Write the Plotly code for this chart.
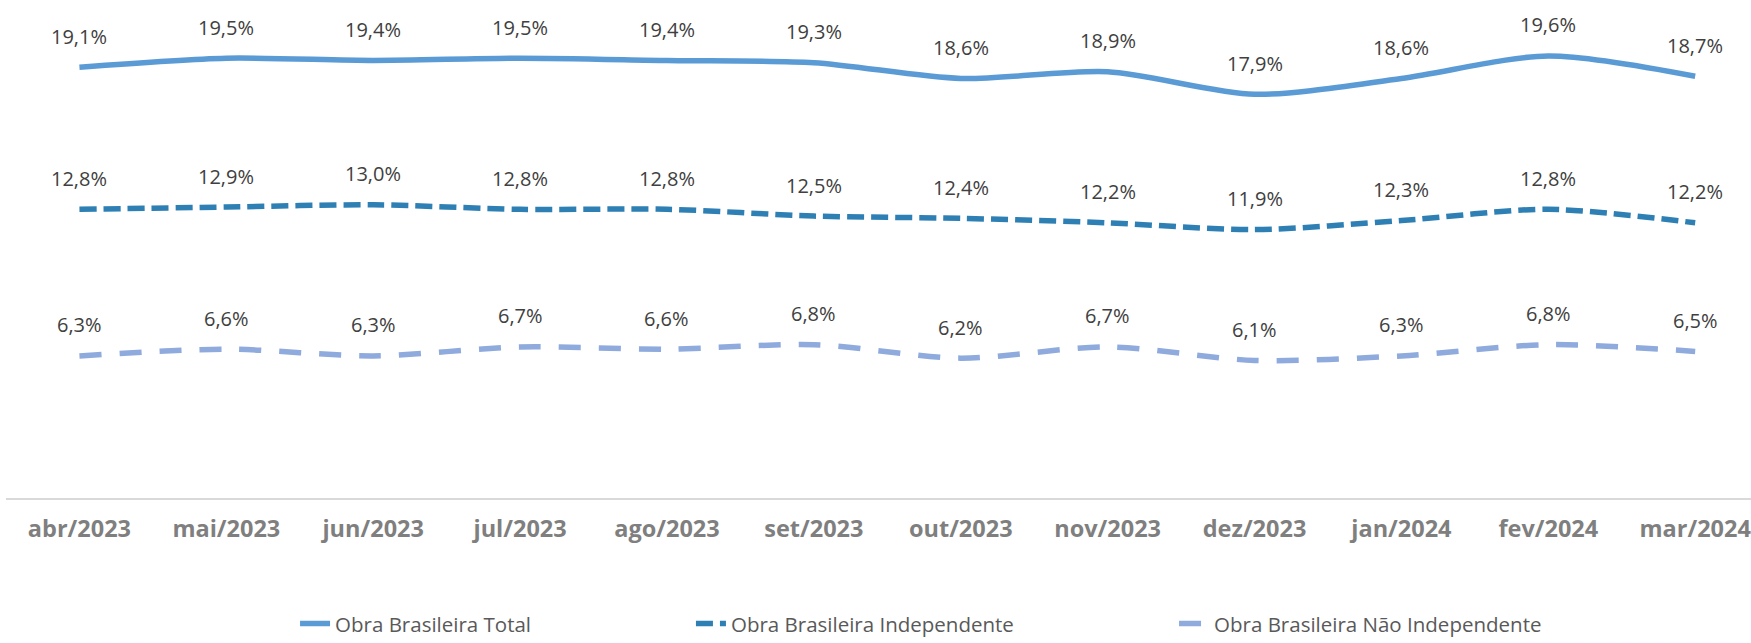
import plotly.graph_objects as go

meses = ['abr/2023', 'mai/2023', 'jun/2023', 'jul/2023', 'ago/2023', 'set/2023',
         'out/2023', 'nov/2023', 'dez/2023', 'jan/2024', 'fev/2024', 'mar/2024']
total = [19.1, 19.5, 19.4, 19.5, 19.4, 19.3, 18.6, 18.9, 17.9, 18.6, 19.6, 18.7]
independente = [12.8, 12.9, 13.0, 12.8, 12.8, 12.5, 12.4, 12.2, 11.9, 12.3, 12.8, 12.2]
nao_independente = [6.3, 6.6, 6.3, 6.7, 6.6, 6.8, 6.2, 6.7, 6.1, 6.3, 6.8, 6.5]

series = [
    ('Obra Brasileira Total', total, '#5B9BD5', 'solid', 'legend', 0.1685),
    ('Obra Brasileira Independente', independente, '#2E7FB4', '17px,7px', 'legend2', 0.3946),
    ('Obra Brasileira Não Independente', nao_independente, '#8FAADC', '22px,18px', 'legend3', 0.6705),
]

x_idx = list(range(len(meses)))

fig = go.Figure()
annotations = []
for nome, valores, cor, dash, leg, _ in series:
    fig.add_trace(go.Scatter(
        x=x_idx, y=valores, mode='lines', name=nome, legend=leg, showlegend=True,
        line=dict(color=cor, width=5.5, dash=dash, shape='spline', smoothing=0.8),
    ))
    for xi, v in zip(x_idx, valores):
        annotations.append(dict(
            x=xi, y=v, text=f'{v:.1f}%'.replace('.', ','), showarrow=False,
            yshift=31, font=dict(family='Open Sans', size=20, color='#404040'),
        ))

# legends placed relative to the whole page so they do not push the plot margins
legend_style = dict(orientation='h', xref='container', yref='container',
                    yanchor='middle', y=0.03, xanchor='left',
                    font=dict(family='Open Sans', size=20.5, color='#595959'),
                    bgcolor='rgba(0,0,0,0)')

fig.update_layout(
    width=1751, height=643,
    margin=dict(l=6, r=0, t=0, b=145, autoexpand=False),
    plot_bgcolor='white', paper_bgcolor='white',
    showlegend=True,
    annotations=annotations,
    legend=dict(x=series[0][5], **legend_style),
    legend2=dict(x=series[1][5], **legend_style),
    legend3=dict(x=series[2][5], **legend_style),
    xaxis=dict(
        range=[-0.5, 11.38], tickvals=x_idx, ticktext=meses,
        showgrid=False, zeroline=False, showline=True, linecolor='#D9D9D9', linewidth=2,
        ticks='', ticklabelstandoff=9, ticklabeloverflow='allow',
        tickfont=dict(family='Open Sans', size=23.5, color='#7F7F7F', weight='bold'),
    ),
    yaxis=dict(range=[0, 22.08], visible=False, showgrid=False, zeroline=False),
)

# remove default page margin so the figure sits at the window origin
fig.write_html('out.html', config={'displayModeBar': False},
               post_script="document.body.style.margin='0px';")
